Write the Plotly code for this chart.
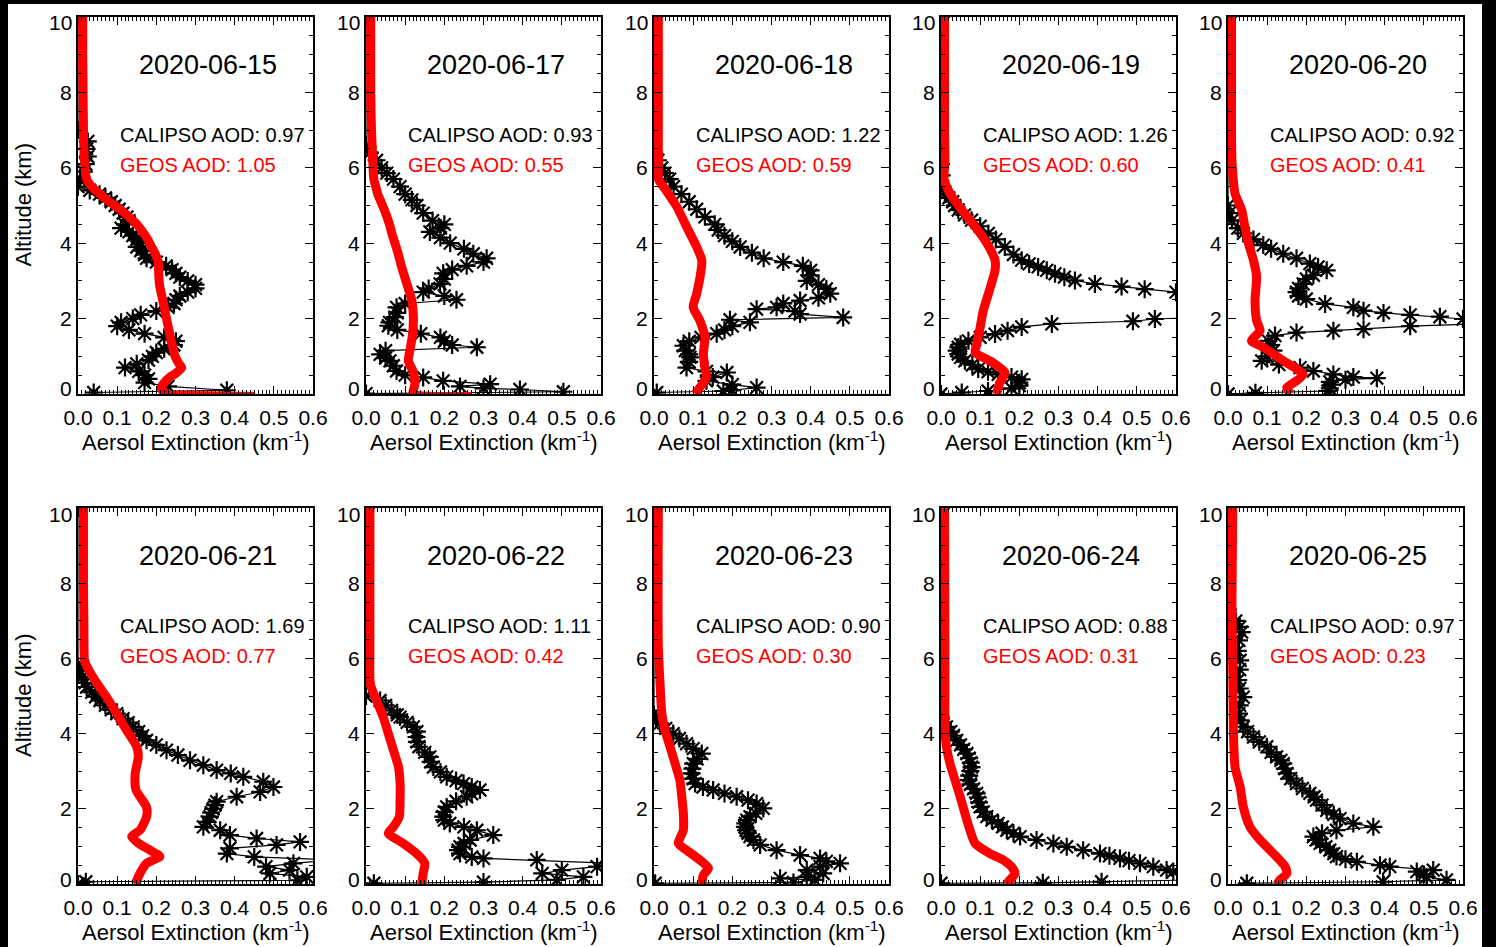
import plotly.graph_objects as go

# ---------------- data ----------------
dates = ["2020-06-15", "2020-06-17", "2020-06-18", "2020-06-19", "2020-06-20",
         "2020-06-21", "2020-06-22", "2020-06-23", "2020-06-24", "2020-06-25"]
calipso_aod = [0.97, 0.93, 1.22, 1.26, 0.92, 1.69, 1.11, 0.90, 0.88, 0.97]
geos_aod = [1.05, 0.55, 0.59, 0.60, 0.41, 0.77, 0.42, 0.30, 0.31, 0.23]
x_tick_vals = [0.0, 0.1, 0.2, 0.3, 0.4, 0.5, 0.6]
y_tick_vals = [0, 2, 4, 6, 8, 10]

# profiles as (altitude km, extinction km-1)
cal_0615 = [(10.0,0.0),(7.0,0.0),(6.7,0.025),(6.5,0.022),(6.3,0.025),(6.1,0.02),(5.9,0.015),(5.7,0.005),(5.5,0.0),(5.4,0.03),(5.3,0.055),(5.2,0.07),(5.1,0.085),(5.0,0.095),(4.9,0.105),(4.8,0.115),(4.7,0.125),(4.6,0.13),(4.5,0.12),(4.4,0.11),(4.3,0.13),(4.2,0.14),(4.1,0.15),(4.0,0.16),(3.9,0.15),(3.8,0.16),(3.7,0.17),(3.6,0.175),(3.5,0.2),(3.4,0.225),(3.3,0.24),(3.2,0.25),(3.1,0.26),(3.0,0.28),(2.9,0.3),(2.8,0.3),(2.7,0.28),(2.6,0.26),(2.5,0.25),(2.4,0.245),(2.3,0.23),(2.2,0.2),(2.1,0.16),(2.0,0.14),(1.9,0.11),(1.8,0.1),(1.7,0.13),(1.6,0.17),(1.5,0.22),(1.4,0.25),(1.3,0.245),(1.2,0.22),(1.1,0.2),(1.0,0.19),(0.9,0.18),(0.8,0.15),(0.7,0.12),(0.6,0.155),(0.5,0.17),(0.4,0.18),(0.3,0.17),(0.2,0.23),(0.1,0.38),(0.04,0.04)]
geos_0615 = [(10.0,0.012),(9.0,0.012),(8.0,0.013),(7.0,0.014),(6.5,0.015),(6.0,0.018),(5.7,0.022),(5.5,0.035),(5.3,0.056),(5.1,0.08),(4.9,0.107),(4.7,0.13),(4.5,0.15),(4.3,0.165),(4.1,0.178),(3.9,0.188),(3.7,0.198),(3.5,0.205),(3.2,0.206),(2.9,0.208),(2.6,0.214),(2.2,0.222),(1.8,0.23),(1.4,0.238),(1.0,0.248),(0.8,0.258),(0.7,0.265),(0.55,0.25),(0.45,0.235),(0.3,0.22),(0.15,0.212),(0.05,0.22),(0.0,0.23),(-0.06,0.45)]

cal_0617 = [(10.0,0.0),(6.6,0.0),(6.4,0.01),(6.2,0.027),(6.0,0.04),(5.86,0.053),(5.7,0.07),(5.5,0.087),(5.3,0.1),(5.15,0.117),(5.0,0.13),(4.8,0.146),(4.6,0.17),(4.5,0.2),(4.4,0.19),(4.3,0.163),(4.15,0.19),(4.0,0.215),(3.85,0.25),(3.72,0.274),(3.6,0.308),(3.5,0.3),(3.4,0.257),(3.3,0.22),(3.2,0.197),(3.05,0.2),(2.92,0.189),(2.8,0.16),(2.7,0.146),(2.6,0.2),(2.5,0.231),(2.4,0.1),(2.3,0.078),(2.15,0.08),(2.04,0.074),(1.9,0.06),(1.81,0.057),(1.7,0.08),(1.6,0.14),(1.5,0.19),(1.4,0.2),(1.3,0.22),(1.24,0.283),(1.15,0.05),(1.05,0.036),(0.95,0.05),(0.88,0.061),(0.75,0.07),(0.61,0.078),(0.5,0.1),(0.44,0.146),(0.35,0.197),(0.26,0.317),(0.2,0.24),(0.15,0.3),(0.12,0.393),(0.06,0.504),(0.01,0.0)]
geos_0617 = [(10.0,0.012),(8.0,0.012),(7.0,0.014),(6.5,0.016),(6.0,0.018),(5.7,0.02),(5.5,0.025),(5.3,0.03),(5.15,0.036),(4.8,0.05),(4.5,0.06),(4.26,0.066),(3.8,0.08),(3.37,0.091),(2.9,0.105),(2.48,0.117),(2.04,0.121),(1.59,0.119),(1.15,0.112),(0.88,0.108),(0.61,0.12),(0.26,0.125),(0.0,0.12),(-0.06,0.27)]

cal_0618 = [(10.0,0.0),(6.4,0.0),(6.2,0.01),(6.0,0.02),(5.86,0.028),(5.7,0.04),(5.5,0.05),(5.3,0.07),(5.1,0.09),(4.9,0.109),(4.7,0.13),(4.5,0.155),(4.35,0.164),(4.2,0.18),(4.05,0.2),(3.9,0.22),(3.75,0.25),(3.6,0.28),(3.5,0.33),(3.4,0.38),(3.28,0.4),(3.15,0.4),(3.0,0.39),(2.9,0.42),(2.79,0.44),(2.66,0.45),(2.55,0.42),(2.48,0.373),(2.4,0.33),(2.3,0.313),(2.25,0.262),(2.2,0.36),(2.12,0.373),(2.03,0.483),(1.97,0.194),(1.9,0.245),(1.8,0.2),(1.7,0.18),(1.6,0.16),(1.5,0.12),(1.4,0.09),(1.28,0.075),(1.15,0.08),(1.05,0.09),(0.97,0.092),(0.85,0.09),(0.7,0.083),(0.6,0.134),(0.57,0.186),(0.45,0.15),(0.35,0.134),(0.25,0.2),(0.17,0.262),(0.1,0.2),(0.08,0.177),(0.04,0.007)]
geos_0618 = [(10.0,0.011),(8.0,0.011),(7.0,0.011),(6.2,0.011),(5.68,0.012),(5.5,0.024),(4.97,0.058),(4.44,0.083),(3.9,0.109),(3.55,0.122),(3.19,0.119),(2.66,0.109),(2.3,0.1),(1.95,0.117),(1.5,0.13),(1.06,0.126),(0.7,0.13),(0.44,0.134),(0.17,0.117),(0.0,0.105)]

cal_0619 = [(10.0,0.0),(6.1,0.0),(5.8,0.002),(5.5,0.004),(5.3,0.01),(5.2,0.02),(5.1,0.03),(5.0,0.035),(4.88,0.044),(4.75,0.06),(4.61,0.078),(4.45,0.1),(4.26,0.121),(4.1,0.14),(3.9,0.163),(3.7,0.185),(3.55,0.206),(3.45,0.225),(3.37,0.248),(3.28,0.27),(3.19,0.291),(3.1,0.315),(3.01,0.342),(2.92,0.393),(2.85,0.461),(2.78,0.52),(2.7,0.6),(2.6,0.8),(2.45,0.95),(2.3,0.9),(2.15,0.75),(2.02,0.63),(1.99,0.546),(1.93,0.49),(1.86,0.283),(1.78,0.206),(1.68,0.17),(1.59,0.138),(1.5,0.1),(1.41,0.07),(1.32,0.05),(1.24,0.044),(1.15,0.04),(1.06,0.044),(0.97,0.05),(0.88,0.061),(0.77,0.08),(0.66,0.095),(0.59,0.12),(0.52,0.146),(0.45,0.18),(0.39,0.206),(0.3,0.2),(0.22,0.2),(0.15,0.18),(0.08,0.12),(0.04,0.053),(0.0,0.0)]
geos_0619 = [(10.0,0.009),(8.0,0.009),(7.0,0.009),(6.21,0.01),(5.68,0.008),(5.32,0.023),(4.88,0.053),(4.44,0.087),(4.0,0.117),(3.55,0.138),(3.28,0.138),(2.66,0.121),(2.21,0.108),(1.77,0.1),(1.32,0.091),(1.1,0.087),(0.88,0.125),(0.57,0.163),(0.3,0.15),(0.0,0.142)]

cal_0620 = [(10.0,0.0),(5.0,0.0),(4.8,0.003),(4.6,0.01),(4.4,0.025),(4.26,0.039),(4.1,0.065),(3.95,0.09),(3.85,0.11),(3.72,0.141),(3.6,0.175),(3.46,0.209),(3.37,0.23),(3.28,0.252),(3.15,0.218),(3.05,0.2),(2.92,0.192),(2.8,0.18),(2.7,0.175),(2.6,0.18),(2.52,0.2),(2.39,0.248),(2.3,0.32),(2.21,0.346),(2.15,0.397),(2.1,0.465),(2.05,0.541),(1.99,0.6),(1.95,0.8),(1.88,0.7),(1.8,0.465),(1.72,0.346),(1.68,0.269),(1.63,0.175),(1.55,0.12),(1.41,0.103),(1.3,0.11),(1.15,0.116),(1.0,0.1),(0.88,0.086),(0.78,0.13),(0.7,0.184),(0.61,0.218),(0.52,0.269),(0.45,0.32),(0.42,0.38),(0.38,0.3),(0.32,0.26),(0.25,0.265),(0.15,0.26),(0.08,0.255),(0.03,0.07),(0.0,0.0)]
geos_0620 = [(10.0,0.009),(8.0,0.009),(7.0,0.009),(6.21,0.01),(5.32,0.018),(4.88,0.035),(4.44,0.043),(4.0,0.052),(3.55,0.065),(3.1,0.073),(2.48,0.069),(1.95,0.073),(1.68,0.082),(1.41,0.06),(1.24,0.09),(0.88,0.141),(0.52,0.192),(0.35,0.175),(0.17,0.15),(0.0,0.16)]

cal_0621 = [(10.0,0.0),(5.8,0.0),(5.7,0.003),(5.5,0.01),(5.35,0.018),(5.24,0.022),(5.1,0.035),(4.98,0.045),(4.88,0.056),(4.75,0.07),(4.63,0.085),(4.53,0.099),(4.4,0.115),(4.29,0.128),(4.18,0.141),(4.05,0.155),(3.94,0.165),(3.82,0.175),(3.7,0.2),(3.56,0.226),(3.43,0.255),(3.29,0.286),(3.16,0.32),(3.03,0.354),(2.94,0.39),(2.85,0.422),(2.72,0.473),(2.58,0.499),(2.45,0.465),(2.32,0.405),(2.19,0.354),(2.1,0.35),(2.0,0.345),(1.9,0.34),(1.79,0.337),(1.65,0.33),(1.52,0.32),(1.43,0.363),(1.3,0.388),(1.21,0.456),(1.12,0.567),(1.04,0.507),(0.95,0.388),(0.81,0.38),(0.72,0.45),(0.64,0.65),(0.55,0.55),(0.46,0.48),(0.37,0.54),(0.28,0.49),(0.19,0.584),(0.1,0.56),(0.06,0.02),(0.0,0.0)]
geos_0621 = [(10.0,0.014),(8.0,0.014),(7.0,0.015),(6.0,0.016),(5.9,0.018),(5.42,0.043),(4.97,0.073),(4.53,0.099),(4.09,0.124),(3.65,0.15),(3.38,0.154),(2.94,0.146),(2.5,0.148),(2.05,0.175),(1.79,0.175),(1.43,0.158),(1.26,0.137),(1.08,0.155),(0.9,0.184),(0.73,0.209),(0.55,0.175),(0.28,0.158),(0.0,0.146)]

cal_0622 = [(10.0,0.0),(5.0,0.0),(4.88,0.036),(4.75,0.05),(4.62,0.065),(4.5,0.08),(4.44,0.087),(4.3,0.105),(4.18,0.121),(4.05,0.13),(3.91,0.129),(3.78,0.13),(3.65,0.135),(3.5,0.15),(3.38,0.163),(3.25,0.165),(3.11,0.172),(2.98,0.19),(2.85,0.206),(2.75,0.23),(2.67,0.249),(2.58,0.27),(2.5,0.291),(2.4,0.27),(2.32,0.257),(2.2,0.23),(2.05,0.206),(1.92,0.2),(1.79,0.197),(1.7,0.2),(1.61,0.214),(1.52,0.25),(1.43,0.283),(1.3,0.325),(1.17,0.266),(1.08,0.25),(0.99,0.24),(0.9,0.235),(0.81,0.24),(0.72,0.27),(0.68,0.3),(0.64,0.436),(0.59,0.62),(0.52,0.7),(0.46,0.59),(0.37,0.5),(0.28,0.45),(0.19,0.555),(0.11,0.487),(0.05,0.3),(0.02,0.02)]
geos_0622 = [(10.0,0.01),(8.0,0.01),(6.2,0.01),(5.32,0.011),(4.88,0.027),(4.44,0.044),(4.0,0.057),(3.56,0.07),(3.11,0.083),(2.67,0.087),(2.23,0.087),(1.79,0.085),(1.52,0.07),(1.35,0.057),(1.08,0.095),(0.81,0.129),(0.55,0.15),(0.28,0.146),(0.0,0.142)]

cal_0623 = [(10.0,0.0),(4.5,0.0),(4.4,0.005),(4.27,0.015),(4.14,0.03),(4.0,0.049),(3.87,0.065),(3.73,0.083),(3.6,0.1),(3.47,0.122),(3.33,0.11),(3.2,0.1),(3.07,0.098),(2.94,0.096),(2.8,0.1),(2.67,0.105),(2.58,0.125),(2.5,0.151),(2.41,0.18),(2.32,0.211),(2.23,0.24),(2.14,0.262),(2.01,0.279),(1.88,0.26),(1.79,0.245),(1.7,0.237),(1.61,0.233),(1.52,0.232),(1.43,0.235),(1.35,0.24),(1.26,0.245),(1.17,0.254),(1.04,0.271),(0.9,0.313),(0.77,0.373),(0.68,0.424),(0.6,0.44),(0.55,0.475),(0.46,0.424),(0.37,0.39),(0.28,0.432),(0.19,0.39),(0.15,0.322),(0.11,0.41),(0.04,0.356),(0.02,0.003)]
geos_0623 = [(10.0,0.011),(6.3,0.011),(5.42,0.015),(4.53,0.02),(4.09,0.028),(3.65,0.041),(3.2,0.054),(2.76,0.066),(2.32,0.071),(1.88,0.075),(1.43,0.075),(1.08,0.062),(0.9,0.083),(0.64,0.117),(0.42,0.139),(0.24,0.126),(0.0,0.122)]

cal_0624 = [(10.0,0.0),(4.4,0.0),(4.3,0.005),(4.18,0.014),(4.05,0.025),(3.95,0.032),(3.82,0.04),(3.7,0.05),(3.58,0.058),(3.47,0.066),(3.35,0.072),(3.23,0.076),(3.11,0.078),(3.0,0.075),(2.88,0.072),(2.76,0.07),(2.65,0.075),(2.53,0.083),(2.41,0.091),(2.3,0.094),(2.17,0.097),(2.05,0.1),(1.92,0.108),(1.79,0.117),(1.7,0.13),(1.61,0.146),(1.52,0.157),(1.43,0.168),(1.35,0.185),(1.26,0.202),(1.17,0.244),(1.08,0.287),(0.99,0.321),(0.9,0.363),(0.81,0.406),(0.75,0.43),(0.68,0.457),(0.62,0.48),(0.55,0.508),(0.46,0.542),(0.37,0.576),(0.33,0.593),(0.28,0.7),(0.2,0.8),(0.12,0.7),(0.06,0.41),(0.03,0.26),(0.02,0.0)]
geos_0624 = [(10.0,0.009),(6.3,0.01),(4.97,0.01),(4.09,0.01),(3.65,0.014),(3.2,0.023),(2.76,0.036),(2.32,0.049),(1.88,0.061),(1.43,0.074),(1.08,0.087),(0.81,0.125),(0.64,0.159),(0.46,0.18),(0.28,0.189),(0.11,0.176),(0.0,0.168)]

cal_0625 = [(10.0,0.0),(7.3,0.0),(7.0,0.02),(6.84,0.03),(6.7,0.035),(6.48,0.028),(6.2,0.025),(5.95,0.031),(5.7,0.03),(5.42,0.026),(5.2,0.03),(4.97,0.039),(4.75,0.03),(4.53,0.028),(4.35,0.032),(4.18,0.039),(4.05,0.05),(3.91,0.065),(3.78,0.08),(3.65,0.099),(3.5,0.11),(3.38,0.124),(3.29,0.135),(3.2,0.141),(3.07,0.145),(2.94,0.15),(2.8,0.16),(2.67,0.175),(2.54,0.19),(2.41,0.209),(2.32,0.22),(2.23,0.226),(2.1,0.24),(1.96,0.252),(1.85,0.27),(1.74,0.286),(1.61,0.32),(1.52,0.371),(1.43,0.277),(1.35,0.24),(1.26,0.218),(1.17,0.225),(1.08,0.235),(0.99,0.25),(0.9,0.26),(0.81,0.27),(0.73,0.277),(0.66,0.3),(0.59,0.329),(0.5,0.388),(0.46,0.413),(0.37,0.524),(0.33,0.482),(0.25,0.5),(0.19,0.507),(0.11,0.558),(0.06,0.396),(0.02,0.048)]
geos_0625 = [(10.0,0.012),(7.53,0.01),(5.77,0.012),(4.0,0.014),(3.11,0.018),(2.58,0.031),(2.05,0.039),(1.52,0.056),(1.17,0.082),(0.81,0.116),(0.46,0.146),(0.28,0.15),(0.11,0.133),(0.0,0.125)]

calipso_profiles = [cal_0615, cal_0617, cal_0618, cal_0619, cal_0620,
                    cal_0621, cal_0622, cal_0623, cal_0624, cal_0625]
geos_profiles = [geos_0615, geos_0617, geos_0618, geos_0619, geos_0620,
                 geos_0621, geos_0622, geos_0623, geos_0624, geos_0625]

# ---------------- layout geometry (pixels) ----------------
W, H = 1496, 947
panel_left = [78, 366, 654, 941, 1228]
panel_w = 235
row_top = [17, 508]
row_bot = [394, 884]
FONT = "Liberation Sans, Arial, Helvetica, sans-serif"
# end labels of the y axis sit slightly inside the frame (IDL style)
y_label_shift = {0: 5, 10: -6}

fig = go.Figure()
layout = dict(
    width=W, height=H,
    margin=dict(l=0, r=0, t=0, b=0, pad=0, autoexpand=False),
    paper_bgcolor="white", plot_bgcolor="white", showlegend=False,
    font=dict(family=FONT, color="black"),
)
annotations = []

for k in range(10):
    row, col = divmod(k, 5)
    sfx = "" if k == 0 else str(k + 1)
    xa, ya = "x" + sfx, "y" + sfx
    cal = calipso_profiles[k]
    geo = geos_profiles[k]
    fig.add_trace(go.Scatter(
        x=[p[1] for p in cal], y=[p[0] for p in cal], xaxis=xa, yaxis=ya,
        mode="lines+markers",
        line=dict(color="black", width=1.2),
        marker=dict(symbol="asterisk-open", size=15, color="black",
                    line=dict(color="black", width=2.2)),
    ))
    fig.add_trace(go.Scatter(
        x=[p[1] for p in geo], y=[p[0] for p in geo], xaxis=xa, yaxis=ya,
        mode="lines", line=dict(color="#ff0000", width=9, shape="spline", smoothing=0.6),
    ))
    x0 = panel_left[col] / W
    x1 = (panel_left[col] + panel_w) / W
    y0 = (H - row_bot[row]) / H
    y1 = (H - row_top[row]) / H
    layout["xaxis" + sfx] = dict(
        domain=[x0, x1], anchor=ya, range=[0, 0.6], automargin=False,
        tickmode="array", tickvals=x_tick_vals,
        ticktext=[f"{v:.1f}" for v in x_tick_vals],
        ticks="inside", ticklen=8, tickwidth=1, tickcolor="black",
        minor=dict(tickmode="linear", tick0=0, dtick=0.01, ticks="inside",
                   ticklen=4, tickcolor="black", tickwidth=1, showgrid=False),
        mirror="allticks", showline=True, linecolor="black", linewidth=1.5,
        showgrid=False, zeroline=False,
        tickfont=dict(size=21, family=FONT, color="black"),
        ticklabelstandoff=4,
    )
    layout["yaxis" + sfx] = dict(
        domain=[y0, y1], anchor=xa, range=[0, 10], automargin=False,
        tickmode="array", tickvals=y_tick_vals, showticklabels=False,
        ticks="inside", ticklen=8, tickwidth=1, tickcolor="black",
        minor=dict(tickmode="linear", tick0=0, dtick=0.5, ticks="inside",
                   ticklen=4, tickcolor="black", tickwidth=1, showgrid=False),
        mirror="allticks", showline=True, linecolor="black", linewidth=1.5,
        showgrid=False, zeroline=False,
    )
    # y tick labels
    for v in y_tick_vals:
        annotations.append(dict(xref="paper", yref=ya, x=(panel_left[col] - 4) / W, y=v,
                                yshift=y_label_shift.get(v, 0), text=str(v),
                                showarrow=False, xanchor="right", yanchor="middle",
                                font=dict(size=21, family=FONT, color="black")))
    # panel texts
    annotations.append(dict(xref=xa, yref=ya, x=0.333, y=8.72, text=dates[k],
                            showarrow=False, xanchor="center", yanchor="middle",
                            font=dict(size=27, family=FONT, color="black")))
    annotations.append(dict(xref=xa, yref=ya, x=0.103, y=6.86,
                            text=f"CALIPSO AOD: {calipso_aod[k]:.2f}",
                            showarrow=False, xanchor="left", yanchor="middle",
                            font=dict(size=20, family=FONT, color="black")))
    annotations.append(dict(xref=xa, yref=ya, x=0.103, y=6.07,
                            text=f"GEOS AOD: {geos_aod[k]:.2f}",
                            showarrow=False, xanchor="left", yanchor="middle",
                            font=dict(size=20, family=FONT, color="#ff0000")))
    # x-axis title
    annotations.append(dict(xref="paper", yref="paper",
                            x=(panel_left[col] + panel_w / 2) / W,
                            y=(H - (row_bot[row] + 47)) / H,
                            text="Aersol Extinction (km<sup>-1</sup>)",
                            showarrow=False, xanchor="center", yanchor="middle",
                            font=dict(size=22, family=FONT, color="black")))
    if col == 0:
        annotations.append(dict(xref="paper", yref="paper", x=23 / W,
                                y=(H - (row_top[row] + row_bot[row]) / 2) / H,
                                text="Altitude (km)", textangle=-90,
                                showarrow=False, xanchor="center", yanchor="middle",
                                font=dict(size=22, family=FONT, color="black")))

layout["annotations"] = annotations
layout["shapes"] = [
    dict(type="rect", xref="paper", yref="paper", x0=0, x1=1, y0=(H - 4) / H, y1=1,
         fillcolor="black", line=dict(width=0), layer="above"),
    dict(type="rect", xref="paper", yref="paper", x0=0, x1=8 / W, y0=0, y1=1,
         fillcolor="black", line=dict(width=0), layer="above"),
    dict(type="rect", xref="paper", yref="paper", x0=1482 / W, x1=1, y0=0, y1=1,
         fillcolor="black", line=dict(width=0), layer="above"),
]
fig.update_layout(**layout)
fig.write_html("out.html")
